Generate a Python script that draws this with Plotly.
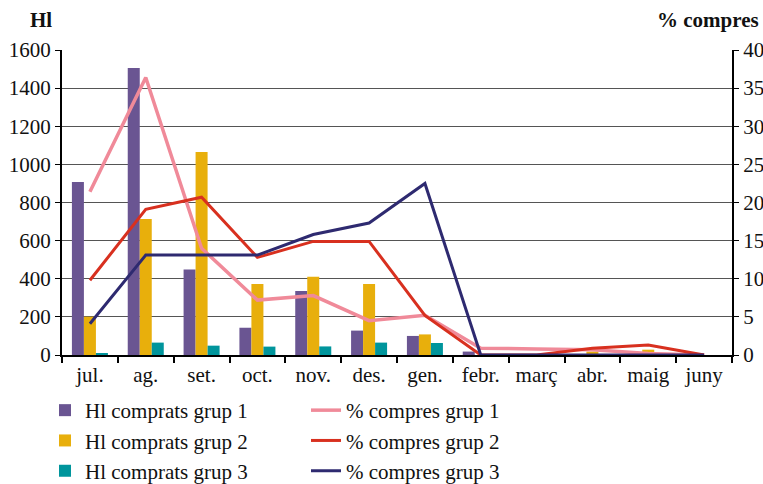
import plotly.graph_objects as go

months = ["jul.", "ag.", "set.", "oct.", "nov.", "des.", "gen.", "febr.", "març", "abr.", "maig", "juny"]

hl_grup1 = [908, 1506, 448, 143, 336, 128, 100, 18, 0, 0, 0, 0]
hl_grup2 = [201, 714, 1065, 373, 411, 373, 108, 0, 0, 18, 28, 0]
hl_grup3 = [8, 65, 49, 44, 45, 65, 63, 0, 0, 0, 0, 0]

pct_grup1 = [21.4, 36.4, 14.0, 7.2, 7.8, 4.5, 5.2, 0.9, 0.8, 0.7, 0.2, 0.0]
pct_grup2 = [9.8, 19.1, 20.7, 12.8, 14.9, 14.9, 5.2, 0.0, 0.0, 0.9, 1.3, 0.0]
pct_grup3 = [4.1, 13.1, 13.1, 13.1, 15.8, 17.3, 22.5, 0.0, 0.0, 0.0, 0.0, 0.0]

bar_names = ["Hl comprats grup 1", "Hl comprats grup 2", "Hl comprats grup 3"]
line_names = ["% compres grup 1", "% compres grup 2", "% compres grup 3"]

bar_colors = ["#6a5592", "#e8af0c", "#00959c"]
line_colors = ["#f08a99", "#d8301f", "#2e2a70"]

FONT = "'Liberation Serif', 'DejaVu Serif', serif"

W, H = 763, 484
L, T = 62, 50
PW, PH = 670, 305


def px_x(p):
    return (p - L) / PW


def px_y(p):
    return (T + PH - p) / PH


fig = go.Figure()
for vals, name, col in zip([hl_grup1, hl_grup2, hl_grup3], bar_names, bar_colors):
    fig.add_trace(go.Bar(x=months, y=vals, name=name, marker=dict(color=col, line=dict(width=0)),
                         legend="legend"))
for vals, name, col in zip([pct_grup1, pct_grup2, pct_grup3], line_names, line_colors):
    fig.add_trace(go.Scatter(x=months, y=vals, name=name, mode="lines", yaxis="y2",
                             line=dict(color=col, width=3.5 if col == line_colors[0] else 3),
                             legend="legend2"))

fig.update_layout(
    width=W, height=H,
    margin=dict(l=L, r=W - L - PW, t=T, b=H - T - PH, autoexpand=False),
    paper_bgcolor="white", plot_bgcolor="white",
    font=dict(family=FONT, size=21, color="#111"),
    barmode="group", bargap=0.355, bargroupgap=0,
    xaxis=dict(type="category", tickson="boundaries", ticks="outside", ticklen=6, tickwidth=1.5,
               tickcolor="black", showline=True, linecolor="black", linewidth=2,
               showgrid=False, tickfont=dict(size=21), automargin=False),
    yaxis=dict(range=[0, 1600], dtick=200, showgrid=True, gridcolor="#555", gridwidth=1,
               showline=True, linecolor="black", linewidth=2, ticks="outside", ticklen=5,
               tickcolor="black", zeroline=False, tickfont=dict(size=21), automargin=False),
    yaxis2=dict(range=[0, 40], dtick=5, overlaying="y", side="right", showgrid=False,
                showline=True, linecolor="black", linewidth=2, ticks="outside", ticklen=5,
                tickcolor="black", zeroline=False, tickfont=dict(size=21), automargin=False),
    legend=dict(x=px_x(45), y=px_y(390), xanchor="left", yanchor="top",
                orientation="v", font=dict(size=21), bgcolor="rgba(0,0,0,0)", tracegroupgap=0,
                itemwidth=30),
    legend2=dict(x=px_x(306), y=px_y(390), xanchor="left", yanchor="top",
                 orientation="v", font=dict(size=21), bgcolor="rgba(0,0,0,0)", tracegroupgap=0,
                 itemwidth=30),
    annotations=[
        dict(text="<b>Hl</b>", xref="paper", yref="paper", x=px_x(28), y=px_y(20),
             xanchor="left", yanchor="middle", showarrow=False, font=dict(size=21)),
        dict(text="<b>% compres</b>", xref="paper", yref="paper", x=px_x(761), y=px_y(20),
             xanchor="right", yanchor="middle", showarrow=False, font=dict(size=21)),
    ],
)

fig.write_html(
    "out.html",
    config={"displayModeBar": False},
    post_script="document.body.style.margin='0';document.body.style.overflow='hidden';",
)
